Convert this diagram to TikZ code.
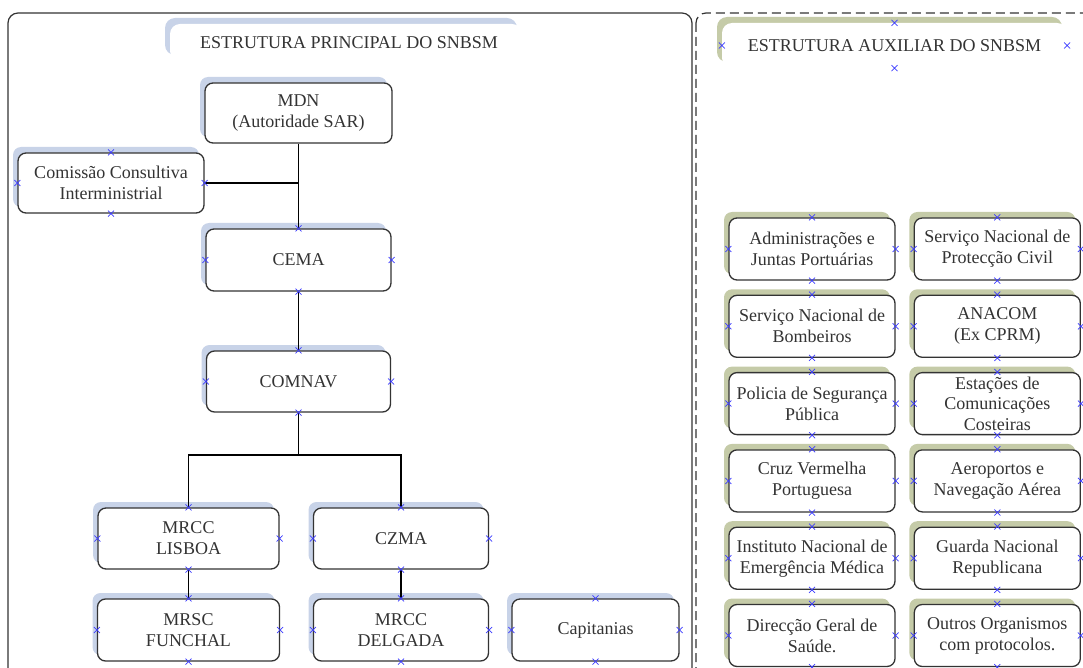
\documentclass[tikz,border=0pt]{standalone}
\usepackage{fontspec}
\setmainfont{Liberation Serif}
\usetikzlibrary{positioning, shadows}
\definecolor{shblue}{RGB}{200,211,232}
\definecolor{sholive}{RGB}{197,203,168}
\definecolor{boxline}{RGB}{51,51,51}
\definecolor{crossblue}{RGB}{60,60,255}
\tikzset{
        box/.style={draw=boxline, line width=1.3pt, fill=white, rounded corners=8pt,
          align=center, inner sep=0pt, text=black!80,
          font=\fontsize{18}{21}\selectfont, minimum height=61pt}, % every organisation box
        mainbox/.style={box, general shadow={fill=shblue, shadow xshift=-5pt, shadow yshift=6pt}},
        auxbox/.style={box, minimum width=166pt, minimum height=62pt,
          general shadow={fill=sholive, shadow xshift=-5pt, shadow yshift=6pt}},
        titlebox/.style={fill=white, rounded corners=10pt, inner sep=0pt, text=black!80,
          font=\fontsize{18}{21}\selectfont}, % heading tab, only its shadow shows
        link/.style={line width=1.2pt, black},
        cnx/.pic={\draw[crossblue, line width=0.7pt] (-3,-3) -- (3,3) (-3,3) -- (3,-3);}, % connection point
    }
\begin{document}
\begin{tikzpicture}[x=1pt, y=-1pt]
    \useasboundingbox (0,0) rectangle (1083,668);
    \clip (0,0) rectangle (1083,668);
    % frames
    \draw[boxline, line width=1.2pt, rounded corners=10pt] (8,13) rectangle (692,678);
    \draw[boxline, line width=1.2pt, rounded corners=10pt, dash pattern=on 9pt off 5pt] (696,13) rectangle (1100,678);
    % main structure
    \node[titlebox, minimum width=352pt, minimum height=37pt,
      general shadow={fill=shblue, shadow xshift=-5pt, shadow yshift=6pt}] (title1) at (346,42.5) {\hspace*{6pt}ESTRUTURA PRINCIPAL DO SNBSM};
    \node[mainbox, minimum width=187pt, minimum height=60pt] (mdn) at (298.5,113) {MDN\\(Autoridade SAR)};
    \node[mainbox, minimum width=186pt, minimum height=60pt] (comissao) at (111,183) {Comissão Consultiva\\Interministrial};
    \node[mainbox, minimum width=185pt, minimum height=62pt] (cema) at (298.5,260) {CEMA};
    \node[mainbox, minimum width=184pt] (comnav) at (298.5,381.5) {COMNAV};
    \node[mainbox, minimum width=181pt] (lisboa) at (188.5,538.5) {MRCC\\LISBOA};
    \node[mainbox, minimum width=175pt] (czma) at (401,538.5) {CZMA};
    \node[mainbox, minimum width=182pt, minimum height=62pt] (funchal) at (188.5,630) {MRSC\\FUNCHAL};
    \node[mainbox, minimum width=175pt, minimum height=62pt] (delgada) at (401,630) {MRCC\\DELGADA};
    \node[mainbox, minimum width=167pt, minimum height=62pt] (capitanias) at (595.5,630) {Capitanias};
    \coordinate (fork) at (298.5,455);
    \draw[link] (mdn) -- (cema);
    \draw[link] (comissao) -- (comissao -| mdn);
    \draw[link] (cema) -- (comnav);
    \draw[link] (comnav) -- (fork);
    \draw[link] (lisboa.north) |- (fork) -| (czma.north);
    \draw[link] (lisboa) -- (funchal);
    \draw[link] (czma) -- (delgada);
    % auxiliary structure
    \node[titlebox, minimum width=345pt, minimum height=45pt,
      general shadow={fill=sholive, shadow xshift=-5pt, shadow yshift=6pt}] (title2) at (894.5,45.5) {ESTRUTURA AUXILIAR DO SNBSM};
    \node[auxbox] (a1) at (812,249) {Administrações e\\Juntas Portuárias};
    \node[auxbox, below=14pt of a1] (a2) {Serviço Nacional de\\Bombeiros};
    \node[auxbox, below=14pt of a2] (a3) {Policia de Segurança\\Pública};
    \node[auxbox, below=14pt of a3] (a4) {Cruz Vermelha\\Portuguesa};
    \node[auxbox, below=14pt of a4] (a5) {Instituto Nacional de\\Emergência Médica};
    \node[auxbox, below=14pt of a5] (a6) {Direcção Geral de\\Saúde.};
    \node[auxbox, right=18pt of a1] (b1) {Serviço Nacional de\\Protecção Civil};
    \node[auxbox, right=18pt of a2] (b2) {ANACOM\\(Ex CPRM)};
    \node[auxbox, right=18pt of a3, font=\fontsize{18}{20.5}\selectfont] (b3) {Estações de\\Comunicações\\Costeiras};
    \node[auxbox, right=18pt of a4] (b4) {Aeroportos e\\Navegação Aérea};
    \node[auxbox, right=18pt of a5] (b5) {Guarda Nacional\\Republicana};
    \node[auxbox, right=18pt of a6] (b6) {Outros Organismos\\com protocolos.};
    % connection points
    \foreach \n in {comissao, cema, comnav, lisboa, czma, funchal, delgada, capitanias, title2,
                    a1, a2, a3, a4, a5, a6, b1, b2, b3, b4, b5, b6}
      \foreach \a in {north, south, east, west}
        \pic at (\n.\a) {cnx};
\end{tikzpicture}
\end{document}
